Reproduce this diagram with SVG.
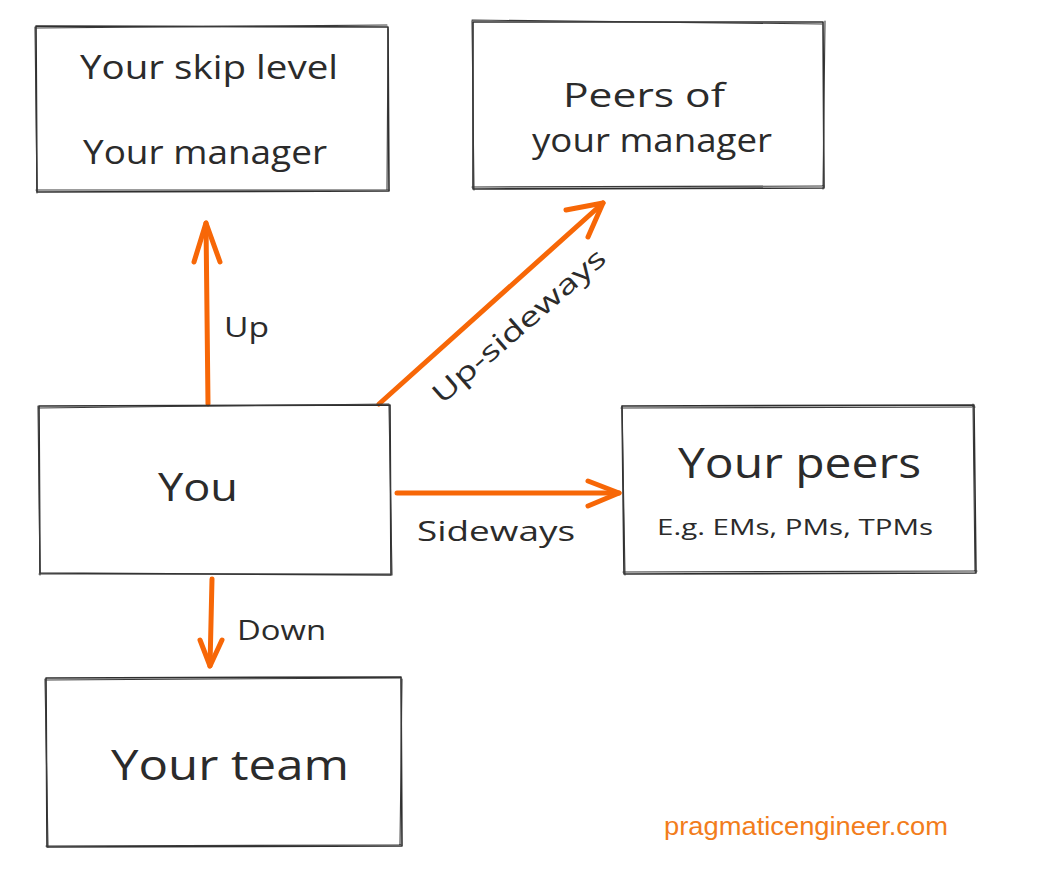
<svg xmlns="http://www.w3.org/2000/svg" width="1062" height="876" viewBox="0 0 1062 876">
  <style>
    .box { fill: none; stroke: #2f2f2f; stroke-width: 1.6; stroke-linecap: round; stroke-linejoin: round; }
    .box2 { fill: none; stroke: #3a3a3a; stroke-width: 1.1; stroke-linecap: round; }
    .lbl { font-family: "Open Sans", "DejaVu Sans", sans-serif; fill: #2b2b2b; font-weight: 500; }
    .edge { fill: none; stroke: #f76707; stroke-width: 5; stroke-linecap: round; stroke-linejoin: round; }
    .brand { font-family: "Liberation Sans", Arial, sans-serif; fill: #f27d1c; }
  </style>
  <rect width="1062" height="876" fill="#ffffff"/>

  <!-- connectors -->
  <g id="connectors">
    <!-- Up -->
    <path class="edge" d="M208 404 L206 223"/>
    <path class="edge" d="M194 262 L206 223 L220 262"/>
    <!-- Up-sideways -->
    <path class="edge" d="M379 404 L603 203"/>
    <path class="edge" d="M566 210 L603 203 L588 237"/>
    <!-- Sideways -->
    <path class="edge" d="M397 493 L619 493"/>
    <path class="edge" d="M588 481 L619 493 L588 506"/>
    <!-- Down -->
    <path class="edge" d="M212 579 L210 666"/>
    <path class="edge" d="M200 640 L210 666 L222 640"/>

    <text class="lbl" x="224" y="337" font-size="27" textLength="45" lengthAdjust="spacingAndGlyphs">Up</text>
    <text class="lbl" font-size="27" textLength="220" lengthAdjust="spacingAndGlyphs" transform="translate(442 405) rotate(-41)">Up-sideways</text>
    <text class="lbl" x="417" y="541" font-size="28" textLength="158" lengthAdjust="spacingAndGlyphs">Sideways</text>
    <text class="lbl" x="237" y="640" font-size="27" textLength="89" lengthAdjust="spacingAndGlyphs">Down</text>
  </g>

  <!-- Your skip level / Your manager -->
  <g id="node-skip">
    <path class="box" d="M36 26 L388 27 L389 191 L37 192 Z"/>
    <path class="box2" d="M35 28 L387 25 M388 29 L387 190 M389 190 L36 190 M37 193 L35 27"/>
    <text class="lbl" x="80" y="79" font-size="32" textLength="258" lengthAdjust="spacingAndGlyphs">Your skip level</text>
    <text class="lbl" x="83" y="164" font-size="32" textLength="244" lengthAdjust="spacingAndGlyphs">Your manager</text>
  </g>

  <!-- Peers of your manager -->
  <g id="node-peers-of-manager">
    <path class="box" d="M473 22 L823 22 L824 188 L473 189 Z"/>
    <path class="box2" d="M472 20 L822 24 M825 21 L823 189 M824 186 L472 187 M474 190 L472 21"/>
    <text class="lbl" x="563" y="107" font-size="32" textLength="162" lengthAdjust="spacingAndGlyphs">Peers of</text>
    <text class="lbl" x="532" y="152" font-size="32" textLength="240" lengthAdjust="spacingAndGlyphs">your manager</text>
  </g>

  <!-- You -->
  <g id="node-you">
    <path class="box" d="M39 406 L390 405 L391 575 L40 573 Z"/>
    <path class="box2" d="M38 408 L389 404 M389 406 L392 575 M390 574 L39 574 M40 575 L38 406"/>
    <text class="lbl" x="158" y="501" font-size="38" textLength="80" lengthAdjust="spacingAndGlyphs">You</text>
  </g>

  <!-- Your peers -->
  <g id="node-your-peers">
    <path class="box" d="M622 406 L974 405 L976 573 L624 574 Z"/>
    <path class="box2" d="M621 408 L975 407 M973 404 L975 572 M977 571 L623 572 M625 575 L622 406"/>
    <text class="lbl" x="678" y="478" font-size="42" textLength="243" lengthAdjust="spacingAndGlyphs">Your peers</text>
    <text class="lbl" x="657" y="535" font-size="22" textLength="276" lengthAdjust="spacingAndGlyphs">E.g. EMs, PMs, TPMs</text>
  </g>

  <!-- Your team -->
  <g id="node-your-team">
    <path class="box" d="M46 678 L401 677 L402 846 L47 847 Z"/>
    <path class="box2" d="M45 680 L400 678 M402 679 L400 845 M401 845 L46 846 M48 847 L45 679"/>
    <text class="lbl" x="111" y="780" font-size="42" textLength="238" lengthAdjust="spacingAndGlyphs">Your team</text>
  </g>

  <text class="brand" x="664" y="835" font-size="25" textLength="284" lengthAdjust="spacingAndGlyphs">pragmaticengineer.com</text>
</svg>
